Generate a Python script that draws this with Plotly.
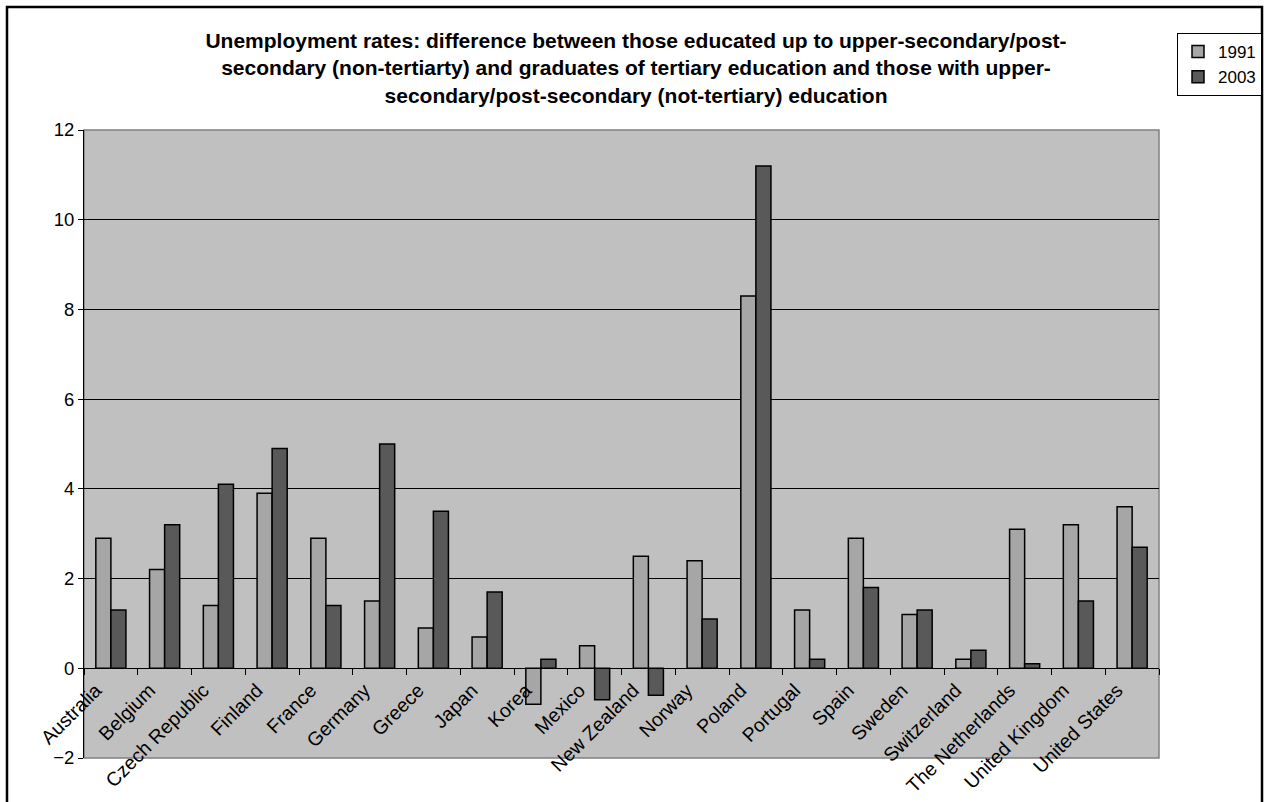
import plotly.graph_objects as go

countries = ["Australia", "Belgium", "Czech Republic", "Finland", "France", "Germany",
             "Greece", "Japan", "Korea", "Mexico", "New Zealand", "Norway", "Poland",
             "Portugal", "Spain", "Sweden", "Switzerland", "The Netherlands",
             "United Kingdom", "United States"]
v1991 = [2.9, 2.2, 1.4, 3.9, 2.9, 1.5, 0.9, 0.7, -0.8, 0.5, 2.5, 2.4, 8.3, 1.3, 2.9, 1.2, 0.2, 3.1, 3.2, 3.6]
v2003 = [1.3, 3.2, 4.1, 4.9, 1.4, 5.0, 3.5, 1.7, 0.2, -0.7, -0.6, 1.1, 11.2, 0.2, 1.8, 1.3, 0.4, 0.1, 1.5, 2.7]
ytick_vals = [-2, 0, 2, 4, 6, 8, 10, 12]

W, H = 1268, 802
ml, mr, mt, mb = 84, 109, 130, 44
pw, ph = W - ml - mr, H - mt - mb
ymin, ymax = -2, 12
zero_frac = (0 - ymin) / (ymax - ymin)

FONT = "Liberation Sans, Arial, sans-serif"

fig = go.Figure()
fig.add_trace(go.Bar(x=countries, y=v1991, name="1991",
                     marker=dict(color="#A6A6A6", line=dict(color="#000000", width=1.5))))
fig.add_trace(go.Bar(x=countries, y=v2003, name="2003",
                     marker=dict(color="#595959", line=dict(color="#000000", width=1.5))))

fig.update_layout(
    width=W, height=H,
    margin=dict(l=ml, r=mr, t=mt, b=mb, pad=0, autoexpand=False),
    paper_bgcolor="white",
    plot_bgcolor="#C0C0C0",
    font=dict(family=FONT, size=18, color="#000000"),
    barmode="group", bargap=0.44, bargroupgap=0,
    title=dict(
        text="<b>Unemployment rates: difference between those educated up to upper-secondary/post-<br>"
             "secondary (non-tertiarty) and graduates of tertiary education and those with upper-<br>"
             "secondary/post-secondary (not-tertiary) education</b>",
        x=636 / W, xanchor="center", y=1 - 48 / H, yanchor="middle",
        font=dict(family=FONT, size=21, color="#000000"),
    ),
    legend=dict(
        x=(1177 - ml) / pw, xanchor="left", y=1 + (mt - 33) / ph, yanchor="top",
        bordercolor="#000000", borderwidth=1, bgcolor="white",
        font=dict(size=17), itemwidth=30, tracegroupgap=0,
    ),
    showlegend=True,
    xaxis=dict(
        type="category", anchor="free", position=zero_frac,
        showline=True, linecolor="#000000", linewidth=1,
        ticks="outside", tickson="boundaries", ticklen=6, tickcolor="#000000",
        tickangle=-45, showgrid=False, zeroline=False,
        tickfont=dict(size=19.5), ticklabelshift=-15, ticklabelstandoff=2,
    ),
    yaxis=dict(
        range=[ymin, ymax], tickvals=ytick_vals, showline=True, linecolor="#000000",
        linewidth=1, ticks="outside", ticklen=5, tickcolor="#000000",
        showgrid=True, gridcolor="#000000", gridwidth=1, zeroline=False,
        tickfont=dict(size=18.5),
    ),
)

# plot-area frame (grey border) and outer chart border
fig.add_shape(type="rect", xref="paper", yref="paper", x0=0, x1=1, y0=0, y1=1,
              line=dict(color="#808080", width=1.5), layer="below")
fig.add_shape(type="rect", xref="paper", yref="paper",
              x0=(7 - ml) / pw, x1=(1262 - ml) / pw,
              y0=-(mb + 10) / ph, y1=1 + (mt - 7) / ph,
              line=dict(color="#000000", width=2.5))

fig.write_html("out.html")
